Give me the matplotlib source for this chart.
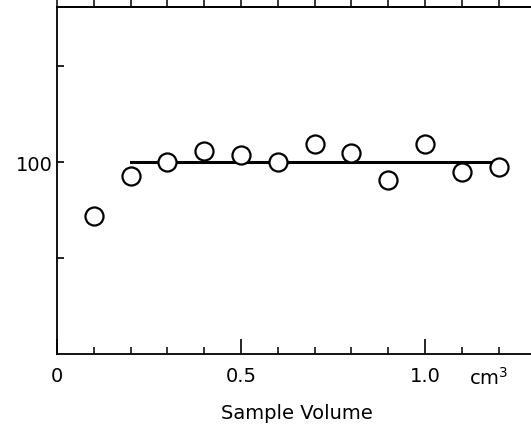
import matplotlib
matplotlib.use("Agg")
import matplotlib.pyplot as plt
from matplotlib.ticker import MultipleLocator, FixedLocator, NullFormatter

# sample volume (cm^3) and measured value
volume = [0.1, 0.2, 0.3, 0.4, 0.5, 0.6, 0.7, 0.8, 0.9, 1.0, 1.1, 1.2]
value = [94.4, 98.5, 100.0, 101.1, 100.7, 100.0, 101.9, 100.9, 98.1, 101.9, 99.0, 99.5]
line_x = [0.2, 1.2]
line_y = [100, 100]

xticks = [0, 0.5, 1.0]
xticklabels = ["0", "0.5", "1.0"]
yticks = [90, 100, 110]
yticklabels = ["", "100", ""]

fig = plt.figure(figsize=(5.31, 4.31), dpi=100)
ax = fig.add_axes([57/531, 76/431, 478.4/531, 347/431])

ax.plot(line_x, line_y, color="black", lw=2.2, zorder=2)
ax.plot(volume, value, "o", ms=13, mfc="white", mec="black", mew=1.6, zorder=3)

ax.set_xlim(0, 1.3)
ax.set_ylim(80, 116.15)

ax.spines["right"].set_visible(False)
for s in ["left", "bottom", "top"]:
    ax.spines[s].set_linewidth(1.3)

ax.xaxis.set_major_locator(FixedLocator(xticks))
ax.set_xticklabels(xticklabels, fontsize=14)
ax.xaxis.set_minor_locator(MultipleLocator(0.1))
ax.tick_params(axis="x", which="major", direction="in", length=11, width=1.2, pad=9)
ax.tick_params(axis="x", which="minor", direction="in", length=5, width=1.1)

# ticks on the top edge point outward
top = ax.secondary_xaxis("top")
top.xaxis.set_major_locator(MultipleLocator(0.1))
top.xaxis.set_major_formatter(NullFormatter())
top.tick_params(direction="out", length=5, width=1.1)
top.spines["top"].set_linewidth(1.3)

ax.set_yticks(yticks)
ax.set_yticklabels(yticklabels, fontsize=14)
ax.tick_params(axis="y", direction="in", length=5, width=1.2, pad=3)

ax.text(1.12, -0.065, "cm$^3$", transform=ax.get_xaxis_transform(),
        fontsize=14, ha="left", va="center")
ax.set_xlabel("Sample Volume", fontsize=14)
ax.xaxis.set_label_coords((297 - 57) / 478.4, -0.14)

fig.savefig("out.png", dpi=100)
